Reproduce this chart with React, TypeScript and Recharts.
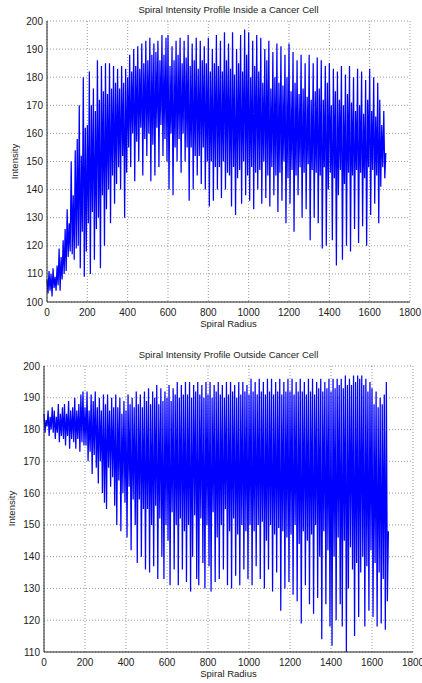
import React from "react";
import { LineChart, Line, XAxis, YAxis, CartesianGrid } from "recharts";

// spiral radius sampled every 5 units, starting at 0
const RADIUS_STEP = 5;

const radiusTicks = [0, 200, 400, 600, 800, 1000, 1200, 1400, 1600, 1800];
const insideTicks = [100, 110, 120, 130, 140, 150, 160, 170, 180, 190, 200];
const outsideTicks = [110, 120, 130, 140, 150, 160, 170, 180, 190, 200];

const insideIntensity = [
  108, 103, 111, 104, 110, 102, 112, 105, 109, 104,
  113, 106, 119, 104, 116, 108, 122, 110, 126, 111,
  133, 116, 128, 118, 150, 117, 138, 115, 154, 119,
  158, 120, 170, 112, 152, 125, 180, 109, 162, 118,
  163, 128, 182, 110, 170, 132, 176, 115, 168, 126,
  186, 130, 172, 112, 184, 138, 175, 120, 185, 133,
  174, 140, 185, 128, 176, 145, 184, 135, 178, 142,
  183, 148, 176, 140, 184, 152, 178, 130, 183, 146,
  180, 155, 188, 148, 182, 160, 190, 143, 184, 157,
  191, 150, 183, 162, 192, 145, 185, 158, 193, 152,
  186, 160, 194, 143, 188, 156, 192, 145, 189, 162,
  193, 148, 186, 163, 195, 152, 188, 158, 194, 150,
  195, 140, 184, 160, 191, 138, 186, 155, 193, 150,
  188, 158, 194, 146, 185, 160, 193, 150, 187, 155,
  195, 136, 184, 155, 192, 140, 186, 152, 194, 145,
  183, 152, 193, 142, 186, 155, 191, 140, 185, 150,
  194, 134, 182, 150, 190, 136, 185, 148, 195, 140,
  184, 148, 193, 137, 182, 150, 196, 140, 186, 146,
  192, 145, 183, 134, 196, 148, 181, 131, 190, 144,
  185, 147, 195, 135, 182, 150, 197, 138, 188, 145,
  196, 136, 180, 148, 193, 133, 184, 146, 195, 140,
  182, 147, 194, 135, 178, 150, 190, 137, 186, 145,
  193, 134, 176, 148, 189, 138, 180, 145, 192, 132,
  178, 146, 191, 136, 177, 150, 188, 128, 180, 144,
  192, 135, 175, 147, 189, 125, 178, 145, 186, 138,
  174, 148, 188, 130, 176, 146, 185, 133, 173, 149,
  188, 122, 172, 147, 185, 130, 175, 146, 187, 128,
  176, 145, 186, 119, 172, 148, 184, 120, 178, 140,
  185, 146, 170, 122, 183, 144, 175, 113, 182, 138,
  172, 147, 184, 115, 170, 142, 181, 120, 174, 146,
  184, 118, 171, 145, 180, 126, 168, 147, 183, 121,
  170, 146, 182, 127, 167, 144, 179, 120, 172, 148,
  183, 131, 168, 147, 180, 135, 166, 145, 178, 128,
  172, 141, 163, 148, 168, 144, 153,
];

const outsideIntensity = [
  185, 179, 183, 181, 186, 178, 184, 180, 187, 179,
  186, 177, 184, 179, 188, 176, 185, 178, 187, 177,
  188, 175, 185, 178, 189, 174, 186, 177, 187, 176,
  190, 174, 186, 177, 188, 173, 191, 176, 192, 175,
  187, 175, 192, 170, 186, 173, 191, 166, 189, 172,
  192, 168, 187, 163, 190, 170, 186, 160, 191, 157,
  188, 155, 191, 168, 186, 162, 190, 165, 187, 156,
  191, 150, 187, 164, 190, 148, 185, 160, 189, 157,
  186, 146, 191, 162, 188, 142, 190, 158, 187, 150,
  192, 138, 188, 158, 191, 140, 187, 155, 192, 136,
  189, 155, 193, 135, 188, 150, 192, 137, 190, 156,
  194, 133, 188, 152, 193, 140, 189, 133, 192, 150,
  190, 145, 194, 131, 189, 154, 193, 136, 191, 150,
  195, 131, 190, 152, 194, 136, 191, 148, 195, 132,
  191, 150, 195, 129, 190, 140, 194, 153, 192, 133,
  195, 131, 191, 152, 194, 138, 190, 130, 195, 150,
  191, 137, 195, 129, 190, 154, 194, 132, 192, 146,
  195, 133, 191, 150, 194, 136, 190, 155, 195, 131,
  191, 148, 195, 130, 192, 152, 194, 134, 190, 147,
  195, 131, 191, 150, 195, 136, 192, 148, 194, 133,
  191, 150, 196, 131, 192, 148, 195, 137, 191, 150,
  196, 133, 192, 151, 195, 130, 191, 145, 196, 136,
  192, 150, 196, 129, 191, 147, 195, 135, 192, 149,
  196, 123, 191, 148, 195, 130, 192, 146, 196, 132,
  192, 147, 196, 128, 191, 150, 195, 126, 192, 144,
  196, 119, 192, 148, 195, 131, 191, 145, 196, 125,
  192, 147, 196, 122, 191, 150, 195, 127, 193, 140,
  196, 114, 192, 148, 195, 125, 193, 142, 196, 118,
  192, 112, 196, 140, 193, 120, 196, 146, 194, 125,
  196, 118, 193, 145, 197, 110, 194, 130, 196, 143,
  194, 136, 197, 115, 195, 138, 197, 121, 196, 135,
  197, 140, 194, 118, 196, 137, 192, 123, 195, 142,
  193, 121, 188, 138, 192, 118, 187, 135, 190, 119,
  188, 133, 191, 117, 195, 126, 148,
];

const toRows = (values: number[]) =>
  values.map((v, i) => ({ radius: i * RADIUS_STEP, intensity: v }));

const FONT = "'Liberation Sans', Arial, sans-serif";
const tickStyle = { fontSize: 10, fill: "#222", fontFamily: FONT };

interface PanelProps {
  title: string;
  values: number[];
  yTicks: number[];
  top: number;
  height: number;
  labelX: number;
  margin: { top: number; right: number; bottom: number; left: number };
}

function Panel({ title, values, yTicks, top, height, labelX, margin }: PanelProps) {
  const plotTop = margin.top;
  const plotBottom = height - margin.bottom - 20;
  const plotLeft = margin.left + 32;
  const plotRight = 422 - margin.right;
  const yDomain = [yTicks[0], yTicks[yTicks.length - 1]];

  return (
    <div style={{ position: "absolute", left: 0, top, width: 422, height }}>
      <div
        style={{
          position: "absolute",
          top: plotTop - 17,
          left: plotLeft,
          width: plotRight - plotLeft,
          textAlign: "center",
          fontFamily: FONT,
          fontSize: 9.5,
          color: "#222",
        }}
      >
        {title}
      </div>
      <LineChart
        width={422}
        height={height}
        data={toRows(values)}
        margin={margin}
      >
        <CartesianGrid stroke="#555" strokeDasharray="1 2" strokeWidth={0.6} />
        <XAxis
          dataKey="radius"
          type="number"
          domain={[0, 1800]}
          ticks={radiusTicks}
          tickLine={false}
          axisLine={{ stroke: "#222" }}
          tick={tickStyle}
          tickSize={5}
          height={20}
          interval={0}
        />
        <XAxis
          xAxisId="top"
          dataKey="radius"
          type="number"
          orientation="top"
          domain={[0, 1800]}
          tick={false}
          tickLine={false}
          axisLine={{ stroke: "#222" }}
          height={0}
        />
        <YAxis
          type="number"
          domain={yDomain}
          ticks={yTicks}
          tickLine={false}
          axisLine={{ stroke: "#222" }}
          tick={tickStyle}
          tickSize={2}
          width={32}
          interval={0}
        />
        <YAxis
          yAxisId="right"
          type="number"
          orientation="right"
          domain={yDomain}
          tick={false}
          tickLine={false}
          axisLine={{ stroke: "#222" }}
          width={0}
        />
        <Line
          type="linear"
          dataKey="intensity"
          stroke="#0000ff"
          strokeWidth={1.25}
          dot={false}
          activeDot={false}
          isAnimationActive={false}
        />
      </LineChart>
      <div
        style={{
          position: "absolute",
          top: plotBottom + 16,
          left: plotLeft,
          width: plotRight - plotLeft,
          textAlign: "center",
          fontFamily: FONT,
          fontSize: 9.5,
          color: "#222",
        }}
      >
        Spiral Radius
      </div>
      <div
        style={{
          position: "absolute",
          top: (plotTop + plotBottom) / 2 - 6,
          left: labelX - 30,
          width: 60,
          textAlign: "center",
          transform: "rotate(-90deg)",
          fontFamily: FONT,
          fontSize: 9.5,
          color: "#222",
        }}
      >
        Intensity
      </div>
    </div>
  );
}

export default function App() {
  return (
    <div
      style={{
        position: "absolute",
        left: 0,
        top: 0,
        width: 422,
        height: 683,
        background: "#fff",
      }}
    >
      <Panel
        title="Spiral Intensity Profile Inside a Cancer Cell"
        values={insideIntensity}
        yTicks={insideTicks}
        top={0}
        height={340}
        labelX={14}
        margin={{ top: 21, right: 12, bottom: 18, left: 15 }}
      />
      <Panel
        title="Spiral Intensity Profile Outside Cancer Cell"
        values={outsideIntensity}
        yTicks={outsideTicks}
        top={340}
        height={343}
        labelX={11}
        margin={{ top: 26, right: 9, bottom: 11, left: 12 }}
      />
    </div>
  );
}
